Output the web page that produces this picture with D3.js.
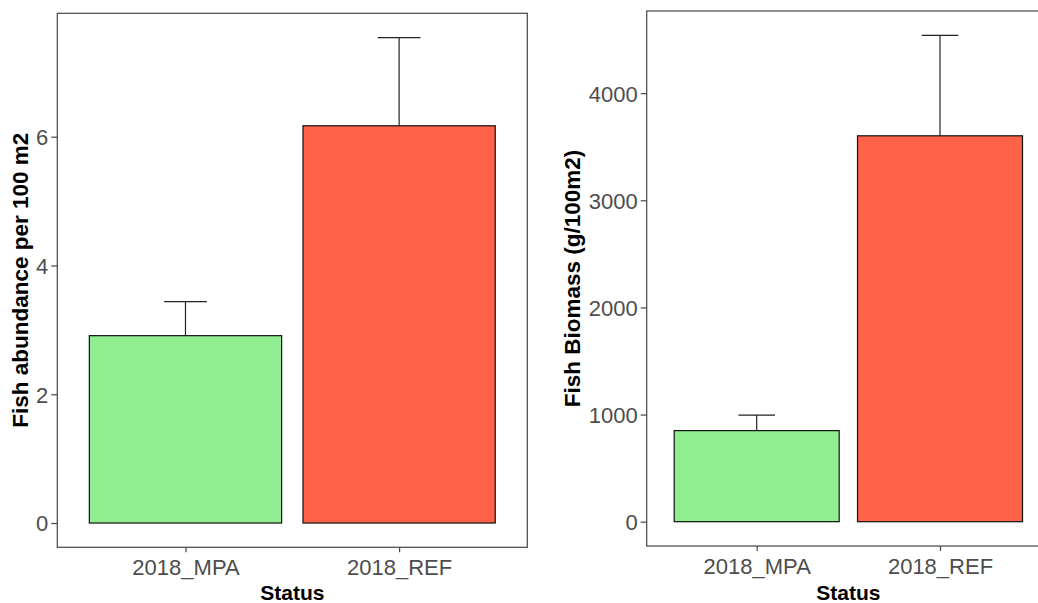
<!DOCTYPE html>
<html>
<head>
<meta charset="utf-8">
<script src="https://cdn.jsdelivr.net/npm/d3@7"></script>
<style>
  html, body { margin: 0; padding: 0; background: #fff; }
  svg { display: block; font-family: "Liberation Sans", Arial, sans-serif; }
</style>
</head>
<body>
<svg id="chart" width="1038" height="603"></svg>
<script>
// Survey categories
const categories = ["2018_MPA", "2018_REF"];
const barColors = ["#90EE90", "#FF6347"];

// Fish abundance per 100 m2: mean and upper error (mean + SE)
const abundanceMean = [2.91, 6.17];
const abundanceUpper = [3.44, 7.54];
const abundanceTicks = [0, 2, 4, 6];

// Fish biomass (g/100m2): mean and upper error (mean + SE)
const biomassMean = [850, 3602];
const biomassUpper = [995, 4540];
const biomassTicks = [0, 1000, 2000, 3000, 4000];

const svg = d3.select("#chart");

function drawPanel(opts) {
  const { left, top, width, height, means, uppers, ticks, yTitle, titleX } = opts;

  // Y domain padded by 5% of the data range on both ends
  const maxV = d3.max(uppers);
  const pad = maxV * 0.05;
  const y = d3.scaleLinear().domain([-pad, maxV + pad]).range([top + height, top]);

  // Discrete x: categories at 1 and 2, 0.6 units of padding on each side
  const unit = width / 2.2;
  const cx = d3.scalePoint().domain(categories)
    .range([left + 0.6 * unit, left + 1.6 * unit]);
  const barW = 0.9 * unit;
  const capW = 0.2 * unit;

  const g = svg.append("g");
  const clipId = "clip" + Math.round(left);
  svg.append("clipPath").attr("id", clipId)
    .append("rect").attr("x", left).attr("y", top).attr("width", width).attr("height", height);
  const plot = g.append("g").attr("clip-path", `url(#${clipId})`);

  // Error bars (upper whisker only)
  categories.forEach((c, i) => {
    const xc = cx(c);
    plot.append("line")
      .attr("x1", xc).attr("x2", xc)
      .attr("y1", y(means[i])).attr("y2", y(uppers[i]))
      .attr("stroke", "#222").attr("stroke-width", 1.2);
    plot.append("line")
      .attr("x1", xc - capW / 2).attr("x2", xc + capW / 2)
      .attr("y1", y(uppers[i])).attr("y2", y(uppers[i]))
      .attr("stroke", "#222").attr("stroke-width", 1.2);
  });

  // Bars
  plot.selectAll("rect.bar").data(categories).enter().append("rect")
    .attr("class", "bar")
    .attr("x", c => cx(c) - barW / 2)
    .attr("width", barW)
    .attr("y", (c, i) => y(means[i]))
    .attr("height", (c, i) => y(0) - y(means[i]))
    .attr("fill", (c, i) => barColors[i])
    .attr("stroke", "#111").attr("stroke-width", 1.2);

  // Panel frame
  g.append("rect").attr("x", left).attr("y", top).attr("width", width).attr("height", height)
    .attr("fill", "none").attr("stroke", "#444").attr("stroke-width", 1.2);

  // Y axis ticks and labels
  const yAxis = d3.axisLeft(y).tickValues(ticks).tickFormat(d3.format("d"))
    .tickSize(6).tickPadding(3);
  const ya = g.append("g").attr("transform", `translate(${left},0)`).call(yAxis);
  ya.select(".domain").remove();
  ya.selectAll(".tick line").attr("stroke", "#444").attr("stroke-width", 1.2);
  ya.selectAll(".tick text").attr("fill", "#4D4D4D").style("font-size", "22px")
    .attr("dy", "0.36em");

  // X axis ticks and labels
  const xAxis = d3.axisBottom(cx).tickSize(5).tickPadding(7);
  const xa = g.append("g").attr("transform", `translate(0,${top + height})`).call(xAxis);
  xa.select(".domain").remove();
  xa.selectAll(".tick line").attr("stroke", "#444").attr("stroke-width", 1.2);
  xa.selectAll(".tick text").attr("fill", "#4D4D4D").style("font-size", "22px")
    .attr("dy", "0.71em");

  // Axis titles
  g.append("text")
    .attr("x", left + width / 2).attr("y", 600)
    .attr("text-anchor", "middle").style("font-size", "21px").style("font-weight", "bold")
    .attr("fill", "#000").text("Status");
  g.append("text")
    .attr("transform", `translate(${titleX},${top + height / 2}) rotate(-90)`)
    .attr("text-anchor", "middle").style("font-size", "22.5px").style("font-weight", "bold")
    .attr("fill", "#000").text(yTitle);
}

drawPanel({
  left: 57.3, top: 13.3, width: 470, height: 534,
  means: abundanceMean, uppers: abundanceUpper, ticks: abundanceTicks,
  yTitle: "Fish abundance per 100 m2", titleX: 28
});

drawPanel({
  left: 646.7, top: 11, width: 403.3, height: 535,
  means: biomassMean, uppers: biomassUpper, ticks: biomassTicks,
  yTitle: "Fish Biomass (g/100m2)", titleX: 580
});
</script>
</body>
</html>
